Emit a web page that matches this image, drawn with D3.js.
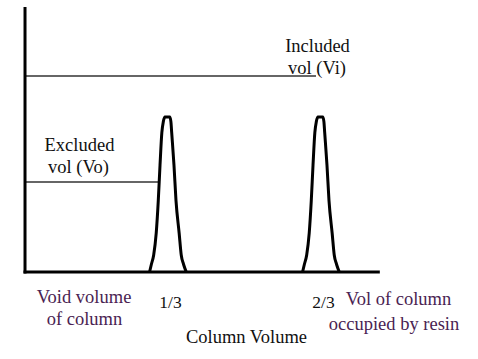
<!DOCTYPE html>
<html>
<head>
<meta charset="utf-8">
<script src="https://cdn.jsdelivr.net/npm/d3@7"></script>
<style>
  html, body { margin: 0; padding: 0; background: #fff; }
  svg { display: block; }
</style>
</head>
<body>
<svg id="chart" width="478" height="359"></svg>
<script>
// ---- data ----
const tickLabels = ["1/3", "2/3"];
const peakCenters = [1/3, 2/3];          // column volume where each peak elutes
const peakHeight = 58.5;                 // relative absorbance at peak top
// peak profile: fraction of peak height, and half-widths (column volume) on each side
const profileHeights = [0, 0.05, 0.11, 0.25, 0.46, 0.69, 0.90, 0.97, 1.0];
const profileLeft    = [0.038, 0.034, 0.029, 0.0235, 0.019, 0.0152, 0.0112, 0.0080, 0.0045];
const profileRight   = [0.042, 0.036, 0.031, 0.0265, 0.0196, 0.0152, 0.0102, 0.0085, 0.0060];
// reference levels
const levelNames = ["Vi", "Vo"];
const levelValues = [74, 34];
const levelEnds = [0.658, 0.316];
// axis extent (column volume / relative units)
const xAxisStart = 0.024, xAxisEnd = 0.797;
const yAxisTop = 100;

const FONT = "Liberation Serif";

// ---- scales ----
const svg = d3.select("#chart");
const x = d3.scaleLinear().domain([0, 1]).range([14, 473]);
const y = d3.scaleLinear().domain([0, 100]).range([272, 7]);

// ---- reference lines ----
levelValues.forEach((v, i) => {
  svg.append("line")
    .attr("x1", x(xAxisStart)).attr("x2", x(levelEnds[i]))
    .attr("y1", y(v)).attr("y2", y(v))
    .attr("stroke", "#333").attr("stroke-width", 1.5);
});

// ---- peaks ----
const line = d3.line().x(d => x(d[0])).y(d => y(d[1])).curve(d3.curveMonotoneX);
peakCenters.forEach(c => {
  const pts = [];
  for (let i = 0; i < profileHeights.length; i++) pts.push([c - profileLeft[i], profileHeights[i] * peakHeight]);
  for (let i = profileHeights.length - 1; i >= 0; i--) pts.push([c + profileRight[i], profileHeights[i] * peakHeight]);
  svg.append("path").datum(pts).attr("d", line)
    .attr("fill", "none").attr("stroke", "#000").attr("stroke-width", 3)
    .attr("stroke-linejoin", "round");
});

// ---- axes frame ----
svg.append("line").attr("x1", x(xAxisStart)).attr("x2", x(xAxisStart))
  .attr("y1", y(yAxisTop)).attr("y2", y(0) + 1.5)
  .attr("stroke", "#000").attr("stroke-width", 3);
svg.append("line").attr("x1", x(xAxisStart) - 1.5).attr("x2", x(xAxisEnd))
  .attr("y1", y(0)).attr("y2", y(0))
  .attr("stroke", "#000").attr("stroke-width", 3);

// ---- tick labels via axis ----
const ax = svg.append("g").attr("transform", `translate(3, ${y(0)})`)
  .call(d3.axisBottom(x).tickValues(peakCenters).tickFormat((d, i) => tickLabels[i]).tickSize(0).tickPadding(0));
ax.attr("font-family", FONT).attr("font-size", 17.5);
ax.select(".domain").remove();
ax.selectAll("text").attr("dy", null).attr("y", 36).attr("fill", "#111");

// ---- text ----
function label(txt, cx, by, color) {
  svg.append("text").attr("x", cx).attr("y", by).attr("text-anchor", "middle")
    .attr("font-family", FONT).attr("font-size", 18.5)
    .attr("fill", color || "#111").text(txt);
}
label("Included", 317.5, 52);
label("vol (Vi)", 317, 74);
label("Excluded", 79.5, 151);
label("vol (Vo)", 78.5, 173);
label("Column Volume", 246.5, 343);
const purple = "#4a2352";
label("Void volume", 84, 303, purple);
label("of column", 84.5, 325, purple);
label("Vol of column", 398.5, 305, purple);
label("occupied by resin", 394, 330, purple);
</script>
</body>
</html>
